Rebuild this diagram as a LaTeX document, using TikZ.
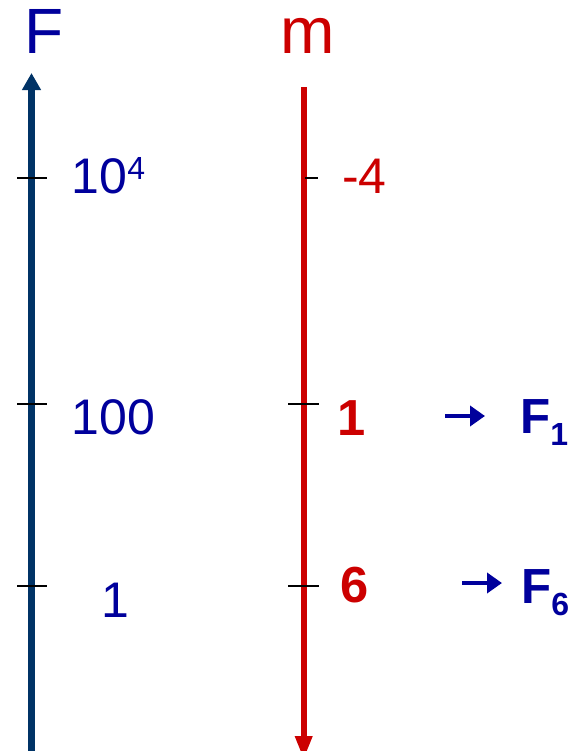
\documentclass[tikz,border=0pt]{standalone}
\usepackage{fontspec}
\setmainfont{Liberation Sans}
\usetikzlibrary{arrows.meta}
\definecolor{navy}{HTML}{003366}
\definecolor{blu}{HTML}{00009C}
\definecolor{rosso}{HTML}{CC0000}
\tikzset{
  lbl/.style={anchor=base west, inner sep=0pt},
  tickmark/.style={black, line width=1pt},
  yields/.style={blu, line width=3.4pt, -{Triangle[length=11.25pt,width=15pt]}}
}
\newcommand{\fsz}[1]{\fontsize{#1}{#1}\selectfont}

\begin{document}
\begin{tikzpicture}[x=0.75pt,y=-0.75pt]
        \useasboundingbox (0,0) rectangle (573,751);
        \clip (0,0) rectangle (573,751);
        % axes
        \coordinate (Fbot) at (31.5,760);
        \coordinate (Ftop) at (31.5,73);
        \coordinate (mtop) at (303.7,87);
        \coordinate (mbot) at (303.7,760);
        \draw[navy, line width=5.25pt, -{Triangle[length=12.75pt,width=13.5pt]}] (Fbot) -- (Ftop);
        \draw[rosso, line width=4.5pt, -{Triangle[length=18pt,width=12pt]}] (mtop) -- (mbot);
        \node[lbl, blu] (lblF) at (24,53) {\fsz{48}F};
        \node[lbl, rosso] (lblm) at (280,53) {\fsz{49}m};
        % ticks
        \draw[tickmark] (17,178) -- (47,178);
        \draw[tickmark] (17,404) -- (47,404);
        \draw[tickmark] (17,586) -- (47,586);
        \draw[tickmark] (305,178) -- (318,178);
        \draw[tickmark] (288,404) -- (319,404);
        \draw[tickmark] (288,586) -- (319,586);
        % F values
        \node[lbl, blu] (f4) at (71.5,193) {\fsz{37.5}10\raisebox{10.5pt}{\fsz{24}4}};
        \node[lbl, blu] (f2) at (71.5,434) {\fsz{37.5}100};
        \node[lbl, blu] (f0) at (101.5,617) {\fsz{37.5}1};
        % m values
        \node[lbl, rosso] (m4) at (342,193) {\fsz{37.5}-4};
        \node[lbl, rosso] (m1) at (337,435) {\fsz{38}\bfseries 1};
        \node[lbl, rosso] (m6) at (340,602) {\fsz{38}\bfseries 6};
        % results
        \coordinate (a1s) at (445,416);
        \coordinate (a1e) at (485,416);
        \coordinate (a6s) at (462,583);
        \coordinate (a6e) at (502,583);
        \draw[yields] (a1s) -- (a1e);
        \draw[yields] (a6s) -- (a6e);
        \node[lbl, blu] (F1) at (520,433) {\fsz{37}\bfseries F\raisebox{-9pt}{\fsz{24}1}};
        \node[lbl, blu] (F6) at (521,603) {\fsz{37}\bfseries F\raisebox{-9pt}{\fsz{24}6}};
    \end{tikzpicture}
\end{document}
